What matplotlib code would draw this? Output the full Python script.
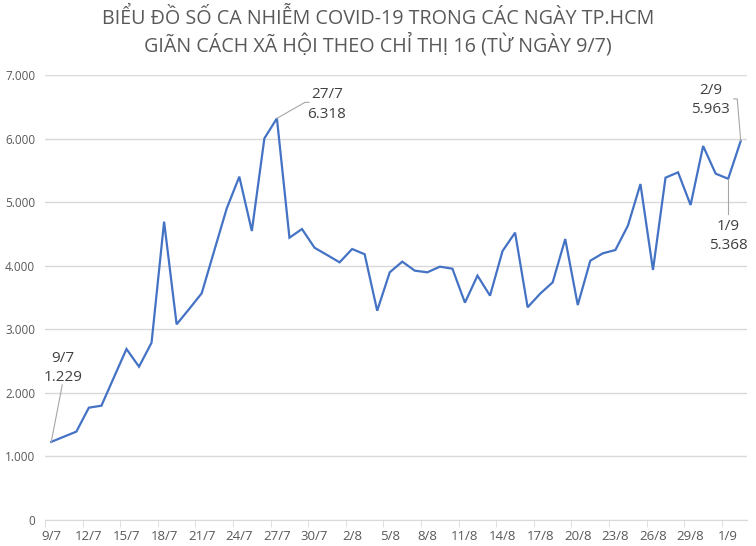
import numpy as np
import matplotlib.pyplot as plt

plt.rcParams['font.family'] = ['Open Sans', 'DejaVu Sans']

# so ca nhiem moi ngay, 9/7 -> 2/9
days = ['9/7', '10/7', '11/7', '12/7', '13/7', '14/7', '15/7', '16/7', '17/7', '18/7',
        '19/7', '20/7', '21/7', '22/7', '23/7', '24/7', '25/7', '26/7', '27/7', '28/7',
        '29/7', '30/7', '31/7', '1/8', '2/8', '3/8', '4/8', '5/8', '6/8', '7/8',
        '8/8', '9/8', '10/8', '11/8', '12/8', '13/8', '14/8', '15/8', '16/8', '17/8',
        '18/8', '19/8', '20/8', '21/8', '22/8', '23/8', '24/8', '25/8', '26/8', '27/8',
        '28/8', '29/8', '30/8', '31/8', '1/9', '2/9']
cases = [1229, 1310, 1390, 1767, 1798, 2245, 2690, 2412, 2789, 4693,
         3078, 3319, 3566, 4236, 4903, 5401, 4546, 6003, 6318, 4441,
         4577, 4283, 4169, 4053, 4263, 4180, 3292, 3896, 4064, 3922,
         3896, 3985, 3953, 3419, 3844, 3529, 4232, 4520, 3346, 3560,
         3739, 4420, 3382, 4079, 4195, 4247, 4630, 5285, 3933, 5385,
         5469, 4955, 5883, 5448, 5368, 5963]
yticks = [0, 1000, 2000, 3000, 4000, 5000, 6000, 7000]
ytick_labels = ['0', '1.000', '2.000', '3.000', '4.000', '5.000', '6.000', '7.000']

fig = plt.figure(figsize=(7.56, 5.46), dpi=100)
ax = fig.add_axes([45 / 756, 1 - 520 / 546, 702 / 756, 445 / 546])

x = np.arange(len(cases))
ax.plot(x, cases, color='#4472c4', lw=1.6, solid_joinstyle='miter')

ax.set_xlim(-0.5, len(cases) - 0.5)
ax.set_ylim(0, 7000)
ax.set_yticks(yticks)
ax.set_yticklabels(ytick_labels)
ax.set_xticks(x[::3])
ax.set_xticklabels(days[::3])
ax.set_xticks(x[::3] - 0.5, minor=True)

ax.grid(axis='y', color='#d9d9d9', lw=1)
ax.set_axisbelow(True)
for s in ['top', 'right', 'left']:
    ax.spines[s].set_visible(False)
ax.spines['bottom'].set_color('#d9d9d9')
ax.tick_params(axis='y', length=0, pad=7, labelsize=8.5, labelcolor='#595959')
ax.tick_params(axis='x', which='major', length=0, pad=7, labelsize=9.5, labelcolor='#595959')
ax.tick_params(axis='x', which='minor', length=5, color='#d9d9d9')

fig.text(0.5, 1 - 18 / 546, 'BIỂU ĐỒ SỐ CA NHIỄM COVID-19 TRONG CÁC NGÀY TP.HCM',
         ha='center', va='center', fontsize=14.2, color='#595959')
fig.text(0.5, 1 - 45 / 546, 'GIÃN CÁCH XÃ HỘI THEO CHỈ THỊ 16 (TỪ NGÀY 9/7)',
         ha='center', va='center', fontsize=14.2, color='#595959')

def fmt(v):
    return f'{v:,}'.replace(',', '.')

def label(i, dx, dy, lx, ly, lx2=None):
    # text box centred at (dx, dy) pixels from the point, leader to (lx, ly)
    ax.annotate(days[i] + '\n' + fmt(cases[i]), xy=(x[i], cases[i]),
                xytext=(dx, dy), textcoords='offset pixels',
                ha='center', va='center', fontsize=11, color='#404040',
                linespacing=1.4)
    px, py = ax.transData.transform((x[i], cases[i]))
    pts = [(px, py), (px + lx, py + ly)]
    if lx2 is not None:
        pts.append((px + lx2, py + ly))
    xs, ys = zip(*[ax.transData.inverted().transform(p) for p in pts])
    ax.plot(xs, ys, color='#a6a6a6', lw=0.8)

label(0, 12, 74, 11, 57)
label(18, 50, 14, 28, 16, 32)
label(55, -30, 41, -3.5, 42, -7)
label(54, 0, -57, 0, -35)

fig.savefig('out.png', dpi=100)
